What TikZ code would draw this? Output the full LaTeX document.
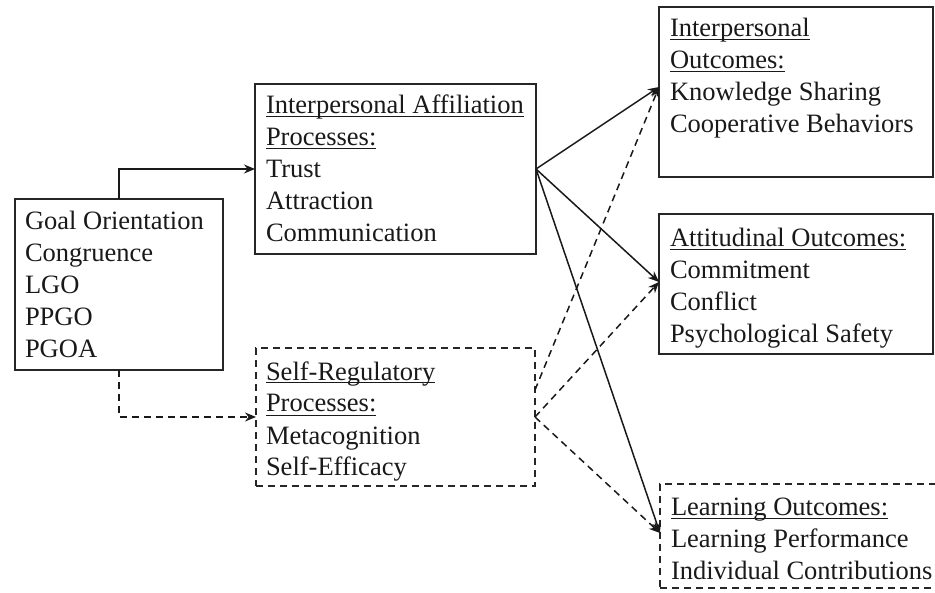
\documentclass[tikz,border=0pt]{standalone}
\usepackage{fontspec}
\setmainfont{Liberation Serif}
\usetikzlibrary{arrows.meta}
\newcommand\ulx[1]{\setbox0\hbox{#1}\rlap{\rule[-3.5pt]{\wd0}{1pt}}\box0}
\tikzset{
  box/.style={draw=black!85, line width=1.8pt, inner sep=0pt, outer sep=0pt, rectangle},
  dbox/.style={box, dash pattern=on 7pt off 5pt},
  txt/.style={inner sep=0pt, outer sep=0pt, align=left, anchor=base west, text=black!90,
    font=\fontsize{26.5}{32}\selectfont},
  conn/.style={line width=1.5pt, draw=black!90, -{Stealth[length=11pt,width=9pt]}},
  dconn/.style={conn, dash pattern=on 7pt off 5pt},
}
\begin{document}
\begin{tikzpicture}[x=1pt,y=-1pt]
\useasboundingbox (0,0) rectangle (935,593);
% boxes
\node[box, minimum width=208pt, minimum height=171pt] (goal) at (119,284.5) {};
\node[box, minimum width=281pt, minimum height=170pt] (iap) at (395.5,169) {};
\node[dbox, minimum width=279pt, minimum height=138pt] (srp) at (395.5,417) {};
\node[box, minimum width=274pt, minimum height=170pt] (io) at (796,92) {};
\node[box, minimum width=274pt, minimum height=140pt] (ao) at (796,284) {};
\node[dbox, minimum width=290pt, minimum height=104pt] (lo) at (805,536) {};
% texts (anchored at the baseline of their last line)
\node[txt] (goalt) at (25,358) {Goal Orientation\\Congruence\\LGO\\PPGO\\PGOA};
\node[txt] (iapt) at (266,242) {\ulx{Interpersonal Affiliation}\\\ulx{Processes:}\\Trust\\Attraction\\Communication};
\node[txt] (srpt) at (266,476) {\ulx{Self-Regulatory}\\\ulx{Processes:}\\Metacognition\\Self-Efficacy};
\node[txt] (iot) at (670,133) {\ulx{Interpersonal}\\\ulx{Outcomes:}\\Knowledge Sharing\\Cooperative Behaviors};
\node[txt] (aot) at (670,343) {\ulx{Attitudinal Outcomes:}\\Commitment\\Conflict\\Psychological Safety};
\node[txt] (lot) at (671,579) {\ulx{Learning Outcomes:}\\Learning Performance\\Individual Contributions};
% connector end points
\coordinate (ioin) at (659,87);
\coordinate (aoin) at (659,282);
\coordinate (loin) at (660,533);
\coordinate (srpup) at (535,390);
% connectors
\draw[conn] (goal.north) |- (iap.west);
\draw[dconn] (goal.south) |- (srp.west);
\draw[conn] (iap.east) -- (ioin);
\draw[conn] (iap.east) -- (aoin);
\draw[conn] (iap.east) -- (loin);
\draw[dconn] (srpup) -- (ioin);
\draw[dconn] (srp.east) -- (aoin);
\draw[dconn] (srp.east) -- (loin);
\end{tikzpicture}
\end{document}
